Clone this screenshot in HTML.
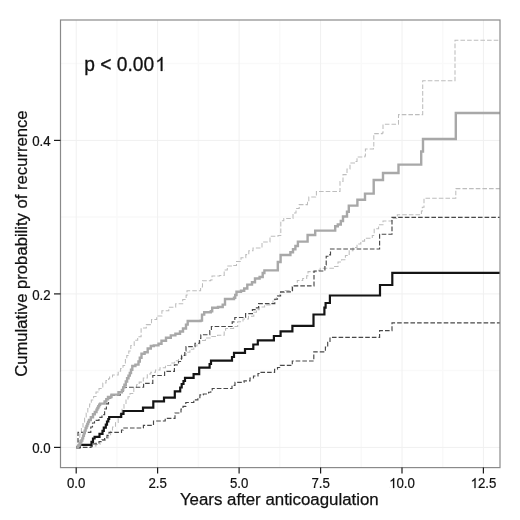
<!DOCTYPE html>
<html><head><meta charset="utf-8"><title>Cumulative probability of recurrence</title>
<style>
html,body{margin:0;padding:0;background:#fff;}
body{width:520px;height:520px;overflow:hidden;}
svg{display:block;will-change:transform;}
text{font-family:"Liberation Sans",sans-serif;fill:#111;stroke:#111;stroke-width:0.45px;}
.tl{font-size:13.25px;stroke-width:0.2px;}
.ax{font-size:16.85px;stroke-width:0.25px;}
.ay{font-size:16.65px;stroke-width:0.25px;}
.pv{font-size:19.2px;stroke-width:0.3px;}
</style></head>
<body>
<svg width="520" height="520" viewBox="0 0 520 520">
<defs><mask id="m1t" maskUnits="userSpaceOnUse" x="-100" y="-100" width="300" height="200"><rect x="-100" y="-100" width="300" height="200" fill="#fff"/><rect x="-12.63" y="-11.20" width="6.86" height="13.70" fill="#000"/></mask><mask id="m1p" maskUnits="userSpaceOnUse" x="-100" y="-100" width="300" height="200"><rect x="-100" y="-100" width="300" height="200" fill="#fff"/><rect x="70.25" y="-15.56" width="9.94" height="18.06" fill="#000"/></mask></defs>
<rect x="0" y="0" width="520" height="520" fill="#fff"/>
<g id="grid">
<line x1="116.9" y1="20.0" x2="116.9" y2="467.6" stroke="#f9f9f9" stroke-width="1.50"/>
<line x1="198.4" y1="20.0" x2="198.4" y2="467.6" stroke="#f9f9f9" stroke-width="1.50"/>
<line x1="279.8" y1="20.0" x2="279.8" y2="467.6" stroke="#f9f9f9" stroke-width="1.50"/>
<line x1="361.3" y1="20.0" x2="361.3" y2="467.6" stroke="#f9f9f9" stroke-width="1.50"/>
<line x1="442.7" y1="20.0" x2="442.7" y2="467.6" stroke="#f9f9f9" stroke-width="1.50"/>
<line x1="60.5" y1="370.6" x2="500.0" y2="370.6" stroke="#f9f9f9" stroke-width="1.50"/>
<line x1="60.5" y1="217.1" x2="500.0" y2="217.1" stroke="#f9f9f9" stroke-width="1.50"/>
<line x1="60.5" y1="63.6" x2="500.0" y2="63.6" stroke="#f9f9f9" stroke-width="1.50"/>
<line x1="76.2" y1="20.0" x2="76.2" y2="467.6" stroke="#f0f0f0" stroke-width="1.00"/>
<line x1="157.6" y1="20.0" x2="157.6" y2="467.6" stroke="#f0f0f0" stroke-width="1.00"/>
<line x1="239.1" y1="20.0" x2="239.1" y2="467.6" stroke="#f0f0f0" stroke-width="1.00"/>
<line x1="320.6" y1="20.0" x2="320.6" y2="467.6" stroke="#f0f0f0" stroke-width="1.00"/>
<line x1="402.0" y1="20.0" x2="402.0" y2="467.6" stroke="#f0f0f0" stroke-width="1.00"/>
<line x1="483.4" y1="20.0" x2="483.4" y2="467.6" stroke="#f0f0f0" stroke-width="1.00"/>
<line x1="60.5" y1="447.4" x2="500.0" y2="447.4" stroke="#f0f0f0" stroke-width="1.00"/>
<line x1="60.5" y1="293.9" x2="500.0" y2="293.9" stroke="#f0f0f0" stroke-width="1.00"/>
<line x1="60.5" y1="140.4" x2="500.0" y2="140.4" stroke="#f0f0f0" stroke-width="1.00"/>
</g>
<g id="curves">
<path d="M76.2 447.4H78.2V441.0H79.8V434.0H81.4V428.0H83.0V423.0H84.6V418.0H86.2V413.0H87.8V408.5H89.6V404.0H91.3V400.0H93.6V396.5H96.0V392.0H99.0V388.5H102.8V383.0H106.0V380.5H108.6V378.8H109.6V377.0H112.5V375.0H118.2V371.2H120.6V368.5H123.0V365.4H125.4V359.0H126.8V355.5H128.8V351.0H130.8V345.4H134.2V340.2H137.7V336.7H141.1V328.0H146.3V324.6H151.5V319.4H156.7V316.0H161.9V310.8H168.8V307.3H175.7V303.8H182.7V299.5H186.1V295.2H187.0V290.8H200.6V287.0H202.5V280.8H210.6V280.0H212.0V276.0H219.6V275.4H224.2V270.0H227.3V266.0H233.5V265.4H236.5V261.5H241.0V257.7H245.8V254.6H248.8V250.8H253.0V248.0H262.0V242.0H270.0V236.3H278.0V235.5H280.8V220.8H283.8V218.5H293.0V213.0H296.0V208.5H299.2V204.6H307.5V202.3H308.8V197.0H315.6V196.0H316.4V191.5H340.0V181.5H343.0V174.6H347.0V169.0H350.0V163.0H355.4V161.5H357.0V157.0H364.8V156.0H365.4V149.0H373.4V148.5H373.8V133.6H382.3V133.0H383.0V124.3H398.5V114.6H422.7V80.8H455.0V40.3H500.0" stroke="#bdbdbd" stroke-width="1.05" stroke-dasharray="4.6 2.05" fill="none"/>
<path d="M76.2 447.4H92.0V446.0H96.0V444.5H100.0V442.0H103.0V440.4H105.5V438.0H108.6V434.6H110.6V430.5H112.5V427.0H115.5V422.5H118.2V418.5H120.2V413.5H122.0V409.3H124.0V404.5H126.0V400.0H128.0V396.8H130.0V393.5H133.8V387.5H136.5V384.8H139.2V382.1H143.3V378.0H147.3V374.0H150.8V372.3H155.5V370.0H160.0V367.7H165.5V365.4H170.8V363.0H174.6V360.8H178.5V358.5H182.3V355.5H186.0V352.3H189.9V349.2H193.8V346.0H197.0V343.6H200.0V340.5H205.4V337.9H210.8V336.5H217.5V335.2H224.2V331.1H225.6V328.5H233.6V326.4H237.7V321.7H243.0V319.0H248.5V316.3H253.8V312.3H256.5V309.6H259.2V306.9H264.6V304.9H270.0V303.4H273.0V299.2H276.4V295.8H279.8V292.5H285.2V290.5H291.9V285.8H297.3V280.4H302.7V278.4H306.7V275.7H308.0V271.6H316.1V270.3H320.2V268.3H334.6V266.4H338.0V262.0H341.5V259.8H345.4V255.5H349.2V250.8H353.0V247.4H357.0V244.0H360.8V241.1H364.6V238.3H372.3V235.4H374.2V228.7H378.6V224.8H383.0V221.0H391.8V218.5H397.3V214.8H421.4V211.0H422.3V207.3H424.0V198.2H455.8V188.6H500.0" stroke="#bdbdbd" stroke-width="1.05" stroke-dasharray="4.6 2.05" fill="none"/>
<path d="M76.2 447.4H78.0V432.4H90.8V427.0H92.5V423.0H94.5V420.3H99.0V417.3H102.0V414.6H104.6V409.0H106.4V403.8H108.5V398.0H110.8V395.2H120.2V391.5H123.0V387.2H143.6V383.3H152.8V375.5H164.6V371.4H174.4V364.8H178.5V361.5H181.5V355.4H184.8V350.8H186.0V346.6H195.0V343.2H199.4V338.5H200.8V334.7H209.8V330.6H211.4V326.5H232.2V321.8H234.8V317.5H245.6V313.6H252.4V309.6H255.2V307.8H258.6V303.6H274.8V299.2H277.5V296.0H280.6V291.8H292.5V285.8H314.0V271.0H324.9V265.0H326.2V256.2H329.6V254.8H330.5V249.0H379.6V234.2H392.0V217.4H500.0" stroke="#484848" stroke-width="1.15" stroke-dasharray="4.6 2.05" fill="none"/>
<path d="M76.2 447.4H91.0V446.2H93.0V443.8H96.2V443.0H99.0V441.5H102.0V439.8H104.6V437.6H107.0V435.3H109.0V432.3H121.5V430.0H123.2V428.0H143.4V425.3H153.5V421.0H165.2V418.3H175.0V413.0H181.0V409.0H183.0V406.3H185.8V402.5H193.8V399.8H197.9V397.6H199.9V394.9H203.3V394.0H208.6V392.2H210.8V390.6H212.2V388.5H232.0V385.4H235.0V382.3H244.0V380.8H250.0V378.0H253.5V376.0H258.0V373.5H259.8V372.3H274.6V369.2H277.5V367.5H280.4V365.4H292.3V361.0H313.8V351.8H325.4V347.0H327.7V342.3H330.0V337.4H379.6V330.6H392.0V322.8H500.0" stroke="#484848" stroke-width="1.15" stroke-dasharray="4.6 2.05" fill="none"/>
<path d="M76.2 447.4H79.5V444.8H91.5V441.8H93.0V438.5H94.6V436.9H99.5V433.8H102.5V430.8H103.8V427.7H105.8V424.6H107.0V421.5H108.3V419.0H109.2V417.0H121.2V413.8H123.5V411.0H143.0V407.7H153.3V401.3H164.0V397.6H174.8V391.3H180.2V387.5H181.7V384.0H183.5V381.0H185.0V377.8H193.6V374.2H199.2V367.6H209.6V364.0H211.0V360.6H232.0V357.0H234.0V352.8H245.0V349.0H253.3V344.5H257.8V340.3H273.9V336.0H280.6V331.3H292.4V325.9H313.5V314.5H324.4V307.7H325.6V303.0H329.9V295.5H380.0V285.0H392.3V272.9H500.0" stroke="#141414" stroke-width="2.2" fill="none" stroke-linejoin="miter" stroke-linecap="butt"/>
<path d="M76.2 447.4H77.8V446.3H79.0V444.6H80.2V442.6H81.3V440.5H82.3V438.4H83.1V435.8H83.9V433.2H84.7V430.6H85.6V428.0H86.5V426.0H87.3V424.0H88.1V422.0H89.0V420.0H90.8V417.2H93.0V414.3H94.8V412.0H96.5V409.6H97.4V408.0H98.3V406.3H99.2V404.8H100.1V403.6H104.6V401.5H106.3V399.3H108.0V397.0H111.5V394.6H118.5V392.3H121.9V390.0H123.2V387.4H124.4V384.8H125.8V381.5H127.1V378.2H128.5V375.6H129.8V373.0H131.0V369.8H132.3V366.0H135.4V364.6H138.5V361.5H139.8V357.8H141.5V353.8H144.6V352.3H147.7V348.5H150.8V346.0H153.8V345.4H158.5V343.8H161.5V340.8H166.0V337.7H170.8V335.4H175.4V333.8H180.0V331.5H183.0V328.5H186.0V324.6H187.7V321.0H200.6V320.6H202.0V314.6H204.2V312.3H210.8V311.2H212.2V307.7H218.0V307.0H222.7V304.6H225.0V299.0H234.0V297.8H235.2V295.0H236.5V291.8H241.0V290.8H244.2V288.5H247.3V284.6H252.0V282.3H255.0V278.5H259.6V277.0H262.7V273.0H264.4V270.4H277.8V262.0H280.6V255.0H290.4V252.2H293.0V249.3H295.4V246.0H297.9V241.6H307.6V235.0H315.2V230.6H335.2V226.2H337.8V224.5H340.8V221.0H343.0V216.5H347.0V211.7H348.8V205.6H357.4V199.7H365.0V193.6H373.7V180.0H383.0V173.0H398.5V164.6H421.2V151.5H423.0V139.0H455.8V113.0H500.0" stroke="#a8a8a8" stroke-width="2.4" fill="none" stroke-linejoin="miter" stroke-linecap="butt"/>
</g>
<rect x="60.5" y="20.0" width="439.5" height="447.6" fill="none" stroke="#8a8a8a" stroke-width="1.2"/>
<g id="ticks">
<line x1="54" y1="447.4" x2="60.5" y2="447.4" stroke="#1a1a1a" stroke-width="1.2"/>
<line x1="54" y1="293.9" x2="60.5" y2="293.9" stroke="#1a1a1a" stroke-width="1.2"/>
<line x1="54" y1="140.4" x2="60.5" y2="140.4" stroke="#1a1a1a" stroke-width="1.2"/>
<line x1="76.2" y1="467.6" x2="76.2" y2="473.6" stroke="#1a1a1a" stroke-width="1.2"/>
<line x1="157.6" y1="467.6" x2="157.6" y2="473.6" stroke="#1a1a1a" stroke-width="1.2"/>
<line x1="239.1" y1="467.6" x2="239.1" y2="473.6" stroke="#1a1a1a" stroke-width="1.2"/>
<line x1="320.6" y1="467.6" x2="320.6" y2="473.6" stroke="#1a1a1a" stroke-width="1.2"/>
<line x1="402.0" y1="467.6" x2="402.0" y2="473.6" stroke="#1a1a1a" stroke-width="1.2"/>
<line x1="483.4" y1="467.6" x2="483.4" y2="473.6" stroke="#1a1a1a" stroke-width="1.2"/>
</g>
<g id="labels">
<text transform="translate(50.6,453.0) scale(1,1.105)" text-anchor="end" class="tl">0.0</text>
<text transform="translate(50.6,299.5) scale(1,1.105)" text-anchor="end" class="tl">0.2</text>
<text transform="translate(50.6,146.0) scale(1,1.105)" text-anchor="end" class="tl">0.4</text>
<text transform="translate(76.2,488.1) scale(1,1.105)" text-anchor="middle" class="tl">0.0</text>
<text transform="translate(157.6,488.1) scale(1,1.105)" text-anchor="middle" class="tl">2.5</text>
<text transform="translate(239.1,488.1) scale(1,1.105)" text-anchor="middle" class="tl">5.0</text>
<text transform="translate(320.6,488.1) scale(1,1.105)" text-anchor="middle" class="tl">7.5</text>
<text transform="translate(402.0,488.1) scale(1,1.105)" text-anchor="middle" class="tl" mask="url(#m1t)">10.0</text>
<g transform="translate(402.0,488.1) scale(1,1.105)"><path transform="translate(-12.740,0) scale(0.00647,-0.00619)" d="M763 0H583V1147Q518 1085 412.5 1023Q307 961 223 930V1104Q375 1175 489 1276Q603 1377 650 1472H763Z" fill="#111" stroke="#111" stroke-width="30.9"/></g>
<text transform="translate(483.4,488.1) scale(1,1.105)" text-anchor="middle" class="tl" mask="url(#m1t)">12.5</text>
<g transform="translate(483.4,488.1) scale(1,1.105)"><path transform="translate(-12.740,0) scale(0.00647,-0.00619)" d="M763 0H583V1147Q518 1085 412.5 1023Q307 961 223 930V1104Q375 1175 489 1276Q603 1377 650 1472H763Z" fill="#111" stroke="#111" stroke-width="30.9"/></g>
</g>
<text transform="translate(84.3,70.9) scale(1,1.05)" class="pv" mask="url(#m1p)">p &lt; 0.001</text>
<g transform="translate(84.3,70.9) scale(1,1.05)"><path transform="translate(70.980,0) scale(0.00937,-0.00897)" d="M763 0H583V1147Q518 1085 412.5 1023Q307 961 223 930V1104Q375 1175 489 1276Q603 1377 650 1472H763Z" fill="#111" stroke="#111" stroke-width="32.0"/></g>
<text x="279.3" y="504.8" text-anchor="middle" class="ax">Years after anticoagulation</text>
<text transform="translate(27.3,243.6) rotate(-90)" text-anchor="middle" class="ay">Cumulative probability of recurrence</text>
</svg>
</body></html>
